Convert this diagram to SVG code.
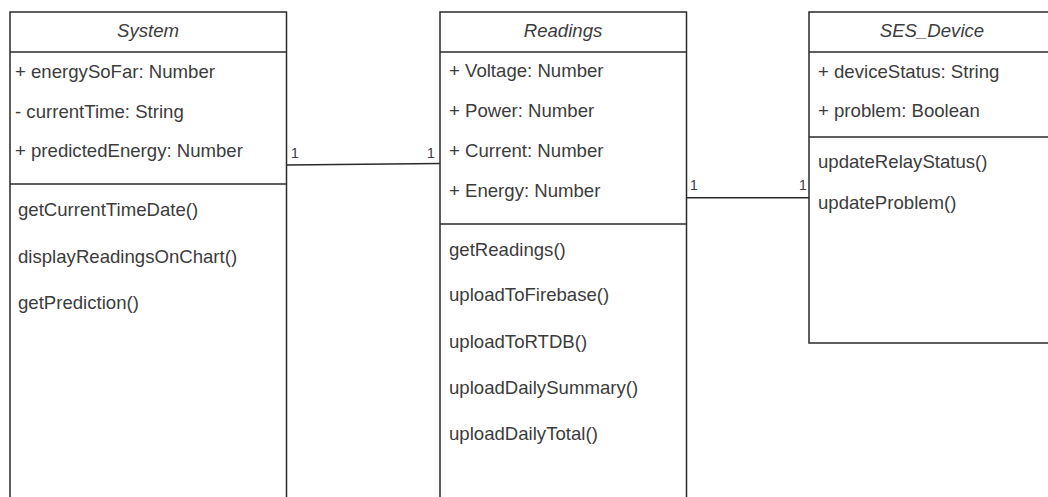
<svg xmlns="http://www.w3.org/2000/svg" width="1048" height="497" viewBox="0 0 1048 497">
<style>
.box{fill:#ffffff;stroke:#2a2a2a;stroke-width:1.5}
.sep{stroke:#2a2a2a;stroke-width:1.5;fill:none}
.t{font-family:"Liberation Sans",Arial,sans-serif;font-size:18.6px;fill:#3c3c3c}
.title{font-style:italic;text-anchor:middle}
.m{font-family:"Liberation Sans",Arial,sans-serif;font-size:14px;fill:#3c3c3c}
.conn{stroke:#2a2a2a;stroke-width:1.5;fill:none}
</style>
<rect width="1048" height="497" fill="#ffffff"/>
<g id="System">
<rect class="box" x="10" y="12" width="276.5" height="500"/>
<line class="sep" x1="10" y1="52" x2="286.5" y2="52"/>
<line class="sep" x1="10" y1="184" x2="286.5" y2="184"/>
<text class="t title" x="148" y="37">System</text>
<text class="t" x="15" y="78">+ energySoFar: Number</text>
<text class="t" x="15" y="118">- currentTime: String</text>
<text class="t" x="15" y="157">+ predictedEnergy: Number</text>
<text class="t" x="18" y="216">getCurrentTimeDate()</text>
<text class="t" x="18" y="263">displayReadingsOnChart()</text>
<text class="t" x="18" y="309">getPrediction()</text>
</g>
<g id="Readings">
<rect class="box" x="440" y="12" width="246.5" height="500"/>
<line class="sep" x1="440" y1="52" x2="686.5" y2="52"/>
<line class="sep" x1="440" y1="224" x2="686.5" y2="224"/>
<text class="t title" x="563" y="37">Readings</text>
<text class="t" x="449" y="77">+ Voltage: Number</text>
<text class="t" x="449" y="117">+ Power: Number</text>
<text class="t" x="449" y="157">+ Current: Number</text>
<text class="t" x="449" y="197">+ Energy: Number</text>
<text class="t" x="449" y="256">getReadings()</text>
<text class="t" x="449" y="301">uploadToFirebase()</text>
<text class="t" x="449" y="348">uploadToRTDB()</text>
<text class="t" x="449" y="394">uploadDailySummary()</text>
<text class="t" x="449" y="440">uploadDailyTotal()</text>
</g>
<g id="SES_Device">
<rect class="box" x="809" y="12" width="250" height="331"/>
<line class="sep" x1="809" y1="52" x2="1059" y2="52"/>
<line class="sep" x1="809" y1="137" x2="1059" y2="137"/>
<text class="t title" x="932" y="37">SES_Device</text>
<text class="t" x="818" y="78">+ deviceStatus: String</text>
<text class="t" x="818" y="117">+ problem: Boolean</text>
<text class="t" x="818" y="168">updateRelayStatus()</text>
<text class="t" x="818" y="209">updateProblem()</text>
</g>
<g id="connectors">
<line class="conn" x1="286.5" y1="165" x2="440" y2="163.5"/>
<text class="m" x="291" y="158">1</text>
<text class="m" x="427" y="158">1</text>
<line class="conn" x1="686.5" y1="197.7" x2="809" y2="197.7"/>
<text class="m" x="690" y="190">1</text>
<text class="m" x="799" y="190">1</text>
</g>
</svg>
